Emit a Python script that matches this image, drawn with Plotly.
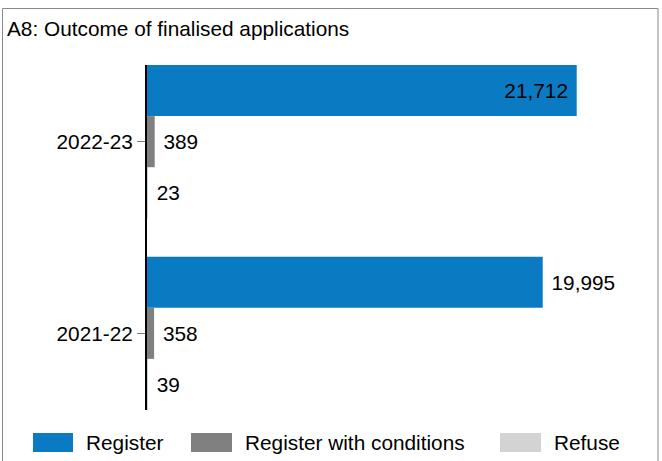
import plotly.graph_objects as go

# ---- data ----
categories = ["2021-22", "2022-23"]
register = [19995, 21712]
register_with_conditions = [358, 389]
refuse = [39, 23]
series_names = ["Register", "Register with conditions", "Refuse"]
series_colors = ["#0A7BC2", "#808080", "#D3D3D3"]
register_text_pos = ["outside", "inside"]

W, H = 662, 461
L, R, T, B = 147, 40, 65, 51
pw, ph = W - L - R, H - T - B

def px(x):
    return (x - L) / pw

def py(y):
    return (H - B - y) / ph

FONT = "Liberation Sans, Arial, sans-serif"
FS = 20.8
NB = "\u00a0"

def labels(vals, positions):
    out = []
    for v, p in zip(vals, positions):
        s = f"{v:,}"
        out.append(s + NB if p == "inside" else NB + s)
    return out

fig = go.Figure()
# traces added bottom-to-top within group so Register ends on top
fig.add_trace(go.Bar(
    y=categories, x=refuse, orientation="h", name=series_names[2],
    marker=dict(color=series_colors[2], line=dict(width=0)),
    text=labels(refuse, ["outside"] * 2), textposition="outside",
    cliponaxis=False, hoverinfo="skip"))
fig.add_trace(go.Bar(
    y=categories, x=register_with_conditions, orientation="h", name=series_names[1],
    marker=dict(color=series_colors[1], line=dict(width=0)),
    text=labels(register_with_conditions, ["outside"] * 2), textposition="outside",
    cliponaxis=False, hoverinfo="skip"))
fig.add_trace(go.Bar(
    y=categories, x=register, orientation="h", name=series_names[0],
    marker=dict(color=series_colors[0], line=dict(width=0)),
    text=labels(register, register_text_pos), textposition=register_text_pos,
    insidetextanchor="end",
    cliponaxis=False, hoverinfo="skip"))

fig.update_traces(textfont=dict(family=FONT, size=FS, color="black"),
                  insidetextfont=dict(family=FONT, size=FS, color="black"),
                  outsidetextfont=dict(family=FONT, size=FS, color="black"))

shapes = [
    # outer frame
    dict(type="rect", xref="paper", yref="paper",
         x0=px(2.5), x1=px(658), y0=py(475), y1=py(8.5),
         line=dict(color="#8a8a8a", width=1), fillcolor="rgba(0,0,0,0)", layer="below"),
]
annotations = []
swatches = [(33, 73, 84), (191, 232, 243), (500, 541, 552)]
for (sx0, sx1, tx), name, col in zip(swatches, series_names, series_colors):
    shapes.append(dict(type="rect", xref="paper", yref="paper",
                       x0=px(sx0), x1=px(sx1), y0=py(452), y1=py(433),
                       line=dict(width=0), fillcolor=col))
    annotations.append(dict(xref="paper", yref="paper", x=px(tx), y=py(442.5),
                            xanchor="left", yanchor="middle", showarrow=False,
                            text=name, font=dict(family=FONT, size=FS, color="black")))

fig.update_layout(
    width=W, height=H,
    margin=dict(l=L, r=R, t=T, b=B, pad=0),
    paper_bgcolor="white", plot_bgcolor="white",
    barmode="group", bargap=0.2, bargroupgap=0,
    showlegend=False,
    title=dict(text="A8: Outcome of finalised applications",
               x=7 / W, xref="container", xanchor="left",
               y=1 - 29 / H, yref="container", yanchor="middle",
               font=dict(family=FONT, size=FS, color="black")),
    xaxis=dict(range=[0, 24000], visible=False, showgrid=False, zeroline=False),
    yaxis=dict(type="category", categoryorder="array", categoryarray=categories,
               range=[-0.4, 1.4], showline=True, linecolor="black", linewidth=2,
               ticks="outside", ticklen=8, tickcolor="#808080", tickwidth=1,
               showgrid=False, zeroline=False,
               tickfont=dict(family=FONT, size=FS, color="black")),
    shapes=shapes, annotations=annotations,
)

fig.write_html("out.html",
               config={"displayModeBar": False},
               post_script="document.body.style.margin='0';document.body.style.overflow='hidden';")
